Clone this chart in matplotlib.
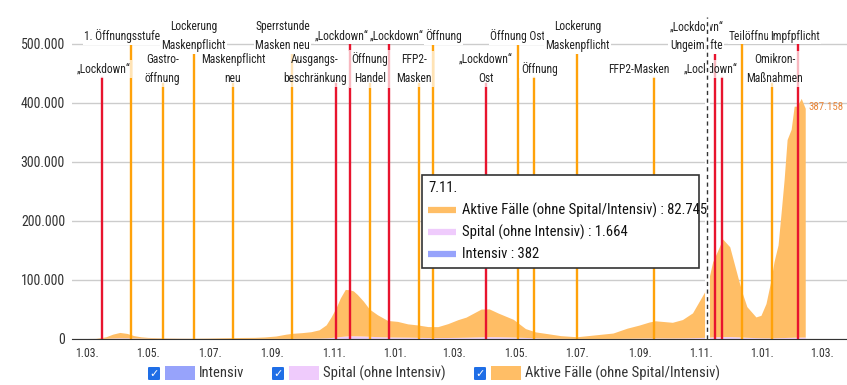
import numpy as np
import pandas as pd
import matplotlib
matplotlib.use('Agg')
import matplotlib.pyplot as plt
import matplotlib.dates as mdates
from matplotlib.patches import Rectangle, FancyBboxPatch
from matplotlib.ticker import FuncFormatter

plt.rcParams['font.family'] = ['DejaVu Sans Condensed', 'Roboto Condensed', 'Liberation Sans', 'DejaVu Sans']

# Austria: active cases, hospital (excl. ICU) and ICU
dates = pd.to_datetime([
    '2020-03-01', '2020-03-10', '2020-03-20', '2020-03-27', '2020-04-03', '2020-04-10', '2020-04-17',
    '2020-04-24', '2020-05-01', '2020-05-15', '2020-06-01', '2020-06-15', '2020-07-01', '2020-07-15',
    '2020-08-01', '2020-08-15', '2020-08-25', '2020-09-05', '2020-09-15', '2020-09-22', '2020-10-01',
    '2020-10-10', '2020-10-18', '2020-10-25', '2020-10-30', '2020-11-04', '2020-11-08', '2020-11-13',
    '2020-11-17', '2020-11-21', '2020-11-25', '2020-12-01', '2020-12-07', '2020-12-15', '2020-12-25',
    '2021-01-04', '2021-01-14', '2021-01-24', '2021-02-03', '2021-02-13', '2021-02-23', '2021-03-05',
    '2021-03-13', '2021-03-28', '2021-04-05', '2021-04-14', '2021-04-29', '2021-05-11', '2021-05-21',
    '2021-06-03', '2021-06-15', '2021-07-01', '2021-07-17', '2021-08-06', '2021-08-20', '2021-09-01',
    '2021-09-11', '2021-09-17', '2021-10-04', '2021-10-14', '2021-10-24', '2021-11-03', '2021-11-07',
    '2021-11-13', '2021-11-23', '2021-11-30', '2021-12-09', '2021-12-13', '2021-12-17', '2021-12-26',
    '2021-12-31', '2022-01-05', '2022-01-10', '2022-01-13', '2022-01-17', '2022-01-20', '2022-01-23',
    '2022-01-26', '2022-01-30', '2022-02-02', '2022-02-05', '2022-02-09', '2022-02-13'])

aktive = [
    0, 150, 2500, 6500, 9000, 7500, 4000,
    2200, 1400, 800, 450, 400, 700, 1200,
    1600, 1800, 2500, 4000, 7000, 8500, 9500,
    11000, 14000, 22000, 35000, 50000, 65000, 79000,
    78000, 76000, 70000, 59000, 46000, 37000, 28000,
    26500, 22500, 21000, 18500, 18500, 23500, 30000,
    34000, 47000, 47000, 40000, 30000, 15000, 10000,
    7300, 4500, 2800, 5600, 9000, 17000, 22000,
    27000, 29000, 26500, 31000, 42000, 71000, 82745,
    127000, 165000, 152000, 95000, 72000, 52000, 35000,
    38000, 58000, 98000, 129000, 157000, 211000, 267000,
    335000, 352000, 391000, 391000, 404000, 387158]

spital = [
    0, 10, 250, 700, 1000, 900, 700,
    500, 350, 200, 90, 60, 60, 80,
    100, 100, 120, 180, 250, 300, 350,
    420, 600, 900, 1400, 2200, 2900, 3500,
    3900, 3900, 3800, 3500, 3100, 2600, 2100,
    2000, 1900, 1600, 1400, 1300, 1400, 1600,
    1800, 2300, 2500, 2400, 1900, 1400, 900,
    450, 250, 120, 100, 180, 350, 550,
    700, 750, 700, 850, 1100, 1500, 1664,
    2200, 2700, 2600, 2100, 1800, 1500, 1100,
    900, 850, 900, 1000, 1150, 1300, 1450,
    1650, 1800, 2000, 2100, 2200, 2300]

intensiv = [
    0, 2, 50, 180, 260, 250, 200,
    150, 110, 60, 30, 10, 10, 15,
    20, 20, 25, 30, 50, 60, 70,
    90, 110, 170, 250, 360, 450, 560,
    640, 700, 700, 680, 620, 560, 480,
    420, 380, 330, 300, 280, 290, 330,
    380, 530, 600, 600, 520, 400, 280,
    170, 90, 50, 30, 60, 120, 180,
    220, 230, 210, 230, 270, 340, 382,
    480, 600, 660, 600, 560, 500, 400,
    340, 290, 250, 230, 210, 200, 190,
    190, 190, 200, 200, 200, 200]

series_names = ['Intensiv', 'Spital (ohne Intensiv)', 'Aktive Fälle (ohne Spital/Intensiv)']

# measures: date, label, kind
ev_dates = pd.to_datetime([
    '2020-03-16', '2020-04-14', '2020-05-15', '2020-06-15', '2020-07-24', '2020-09-21',
    '2020-11-03', '2020-11-17', '2020-12-07', '2020-12-26', '2021-01-25', '2021-02-08',
    '2021-04-01', '2021-05-03', '2021-05-19', '2021-07-01', '2021-09-15', '2021-11-15',
    '2021-11-22', '2021-12-12', '2022-01-10', '2022-02-05'])
ev_labels = [
    '\u201eLockdown\u201c', '1. Öffnungsstufe', 'Gastro-\nöffnung', 'Lockerung\nMaskenpflicht',
    'Maskenpflicht\nneu', 'Sperrstunde\nMasken neu', 'Ausgangs-\nbeschränkung', '\u201eLockdown\u201c',
    'Öffnung\nHandel', '\u201eLockdown\u201c', 'FFP2-\nMasken', 'Öffnung',
    '\u201eLockdown\u201c\nOst', 'Öffnung Ost', 'Öffnung', 'Lockerung\nMaskenpflicht',
    'FFP2-Masken', '\u201eLockdown\u201c\nUngeimpfte', '\u201eLockdown\u201c', 'Teilöffnung',
    'Omikron-\nMaßnahmen', 'Impfpflicht']
ev_kind = ['lock', 'open', 'open', 'open', 'open', 'open', 'lock', 'lock', 'open', 'lock', 'open',
           'open', 'lock', 'open', 'open', 'open', 'open', 'lock', 'lock', 'open', 'open', 'lock']

# label layout: row (1 = top, 2 = below) and horizontal shift in pixels
ev_row = [2, 1, 2, 1, 2, 1, 2, 1, 2, 1, 2, 1, 2, 1, 2, 1, 2, 1, 2, 1, 2, 1]
ev_dx = [1, -9, 0, 0, 0, -10, -21, -8, 0, 8, -5, 10, 0, 0, 6, 0, -15, -19, -12, 13, 3, -3]

hover_date = pd.Timestamp('2021-11-07')

c_int = '#97a3fb'
c_spi = '#efcbfc'
c_akt = '#ffbe66'
c_lock = '#e8142e'
c_open = '#ffa20a'

W, H = 847, 385
fig = plt.figure(figsize=(W / 100, H / 100), dpi=100)
ax = fig.add_axes([72 / W, 46 / H, 775 / W, 322 / H])

ax.stackplot(dates, intensiv, spital, aktive, colors=[c_int, c_spi, c_akt], lw=0, zorder=2)

ax.set_xlim(pd.Timestamp('2020-02-15'), pd.Timestamp('2022-03-26'))
ax.set_ylim(0, 545000)
ax.set_yticks(np.arange(0, 500001, 100000))
ax.yaxis.set_major_formatter(FuncFormatter(lambda v, p: f'{int(v):,}'.replace(',', '.')))
ax.xaxis.set_major_locator(mdates.MonthLocator(bymonth=[1, 3, 5, 7, 9, 11]))
ax.xaxis.set_major_formatter(FuncFormatter(lambda v, p: mdates.num2date(v).strftime('%d.%m.').lstrip('0')))
ax.yaxis.grid(True, color='#cccccc', lw=1)
ax.set_axisbelow(True)
for s in ['top', 'right', 'left']:
    ax.spines[s].set_visible(False)
ax.spines['bottom'].set_color('#333333')
ax.spines['bottom'].set_zorder(4)
ax.tick_params(axis='y', length=0, pad=5, labelsize=10, labelcolor='#333333')
ax.tick_params(axis='x', length=0, pad=6, labelsize=8.5, labelcolor='#333333')

# measure lines and their labels
xt = ax.get_xaxis_transform()
for d, lab, kind, row, dx in zip(ev_dates, ev_labels, ev_kind, ev_row, ev_dx):
    col = c_lock if kind == 'lock' else c_open
    two = '\n' in lab
    xd = mdates.date2num(d)
    if row == 1:
        ytxt = 0.940
        ytop = 0.898 if two else 0.916
        bb = dict(boxstyle='square,pad=0.12', fc='white', ec='none')
        z = 7
    else:
        ytxt = 0.8385
        ytop = 0.792 if two else 0.811
        bb = dict(boxstyle='square,pad=0.2', fc='white', ec='none', alpha=0.7)
        z = 6
    ax.axvline(xd, ymin=0, ymax=ytop, color=col, lw=1.7, zorder=3)
    ax.annotate(lab, xy=(xd, ytxt), xycoords=xt, xytext=(dx, 0), textcoords='offset pixels',
                ha='center', va='center', fontsize=8.3, color='#222222', linespacing=1.6,
                bbox=bb, zorder=z, annotation_clip=False)

# hover crosshair
hx = mdates.date2num(hover_date)
ax.axvline(hx, color='white', lw=3.5, zorder=8)
ax.axvline(hx, color='#333333', lw=1, ls=(0, (3, 2.5)), zorder=9)

# last value label
tot_last = aktive[-1] + spital[-1] + intensiv[-1]
ax.annotate(f'{aktive[-1]:,}'.replace(',', '.'), xy=(mdates.date2num(dates[-1]), tot_last), xytext=(3, 2),
            textcoords='offset pixels', ha='left', va='center', fontsize=7.8, color='#e8863a', zorder=5)

# tooltip
def fx(px):
    return px / W

def fy(py):
    return 1 - py / H

hi = list(dates).index(hover_date)
fig.add_artist(Rectangle((fx(422), fy(268)), fx(699) - fx(422), fy(175) - fy(268),
                         transform=fig.transFigure, fc='white', ec='#333333', lw=1.2, zorder=10))
fig.text(fx(428), fy(188), hover_date.strftime('%d.%m.').lstrip('0'), fontsize=10.5,
         color='#111111', va='center', zorder=11)
tip_rows = [(series_names[2], aktive[hi], c_akt), (series_names[1], spital[hi], c_spi),
            (series_names[0], intensiv[hi], c_int)]
for k, (nm, val, col) in enumerate(tip_rows):
    yy = fy(210 + 22 * k)
    fig.add_artist(plt.Line2D([fx(428), fx(456)], [yy, yy], transform=fig.transFigure,
                              color=col, lw=4.5, solid_capstyle='butt', zorder=11))
    fig.text(fx(462), yy, f'{nm} : ' + f'{val:,}'.replace(',', '.'), fontsize=10.5,
             color='#111111', va='center', zorder=11)

# legend with checkboxes
leg = [(148, c_int, series_names[0]), (272, c_spi, series_names[1]), (474, c_akt, series_names[2])]
for x0, col, nm in leg:
    fig.add_artist(FancyBboxPatch((fx(x0), fy(380)), fx(12), 13 / H, boxstyle='round,pad=0,rounding_size=0.002',
                                  transform=fig.transFigure, fc='#1f6ee6', ec='none'))
    fig.text(fx(x0 + 6), fy(373.5), '\u2713', fontsize=8, color='white', ha='center', va='center',
             fontweight='bold', family='DejaVu Sans')
    fig.add_artist(Rectangle((fx(x0 + 17), fy(380)), fx(30), 14 / H, transform=fig.transFigure,
                             fc=col, ec='none'))
    fig.text(fx(x0 + 51), fy(373), nm, fontsize=10.5, color='#333333', va='center')

fig.savefig('out.png', dpi=100)
